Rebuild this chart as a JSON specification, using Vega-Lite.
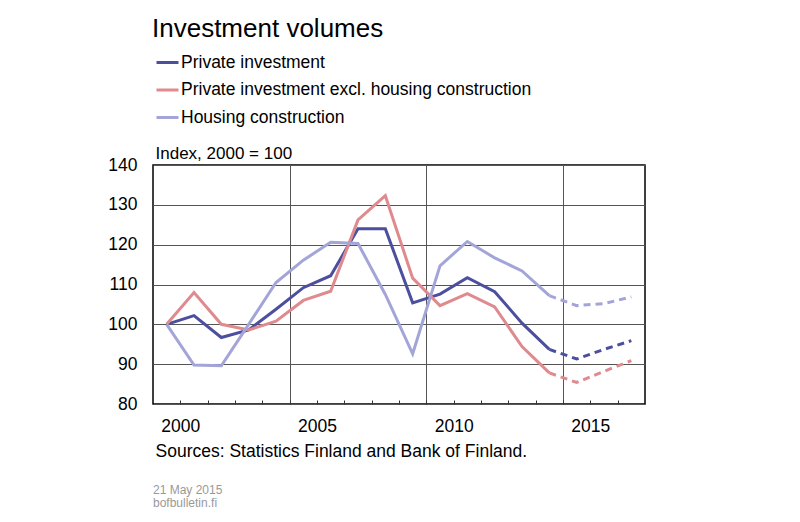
{
  "$schema": "https://vega.github.io/schema/vega-lite/v6.json",
  "description": "Investment volumes, index 2000 = 100",
  "width": 492,
  "height": 239,
  "autosize": {"type": "none"},
  "padding": {"left": 153, "top": 165, "right": 155, "bottom": 118},
  "background": "white",
  "config": {
    "font": "Liberation Sans",
    "view": {"stroke": "#000", "strokeWidth": 1.5}
  },
  "title": {
    "text": ["21 May 2015", "bofbulletin.fi"],
    "orient": "bottom",
    "anchor": "start",
    "frame": "group",
    "fontSize": 12,
    "fontWeight": "normal",
    "color": "#999",
    "lineHeight": 13.5,
    "offset": 25
  },
  "data": {
    "values": [
      {"year": 2000, "series": "Private investment", "value": 100},
      {"year": 2001, "series": "Private investment", "value": 102.2},
      {"year": 2002, "series": "Private investment", "value": 96.7},
      {"year": 2003, "series": "Private investment", "value": 98.6},
      {"year": 2004, "series": "Private investment", "value": 103.8},
      {"year": 2005, "series": "Private investment", "value": 109.2},
      {"year": 2006, "series": "Private investment", "value": 112.2},
      {"year": 2007, "series": "Private investment", "value": 124.0},
      {"year": 2008, "series": "Private investment", "value": 124.0},
      {"year": 2009, "series": "Private investment", "value": 105.4},
      {"year": 2010, "series": "Private investment", "value": 107.6},
      {"year": 2011, "series": "Private investment", "value": 111.7},
      {"year": 2012, "series": "Private investment", "value": 108.2},
      {"year": 2013, "series": "Private investment", "value": 100.3},
      {"year": 2014, "series": "Private investment", "value": 93.7},
      {"year": 2015, "series": "Private investment", "value": 91.3},
      {"year": 2016, "series": "Private investment", "value": 93.7},
      {"year": 2017, "series": "Private investment", "value": 95.9},
      {"year": 2000, "series": "Private investment excl. housing construction", "value": 100},
      {"year": 2001, "series": "Private investment excl. housing construction", "value": 108.0},
      {"year": 2002, "series": "Private investment excl. housing construction", "value": 100.0},
      {"year": 2003, "series": "Private investment excl. housing construction", "value": 98.6},
      {"year": 2004, "series": "Private investment excl. housing construction", "value": 100.8},
      {"year": 2005, "series": "Private investment excl. housing construction", "value": 106.0},
      {"year": 2006, "series": "Private investment excl. housing construction", "value": 108.3},
      {"year": 2007, "series": "Private investment excl. housing construction", "value": 126.2},
      {"year": 2008, "series": "Private investment excl. housing construction", "value": 132.3},
      {"year": 2009, "series": "Private investment excl. housing construction", "value": 111.6},
      {"year": 2010, "series": "Private investment excl. housing construction", "value": 104.7},
      {"year": 2011, "series": "Private investment excl. housing construction", "value": 107.7},
      {"year": 2012, "series": "Private investment excl. housing construction", "value": 104.4},
      {"year": 2013, "series": "Private investment excl. housing construction", "value": 94.4},
      {"year": 2014, "series": "Private investment excl. housing construction", "value": 87.8},
      {"year": 2015, "series": "Private investment excl. housing construction", "value": 85.4},
      {"year": 2016, "series": "Private investment excl. housing construction", "value": 88.2},
      {"year": 2017, "series": "Private investment excl. housing construction", "value": 90.9},
      {"year": 2000, "series": "Housing construction", "value": 100},
      {"year": 2001, "series": "Housing construction", "value": 89.8},
      {"year": 2002, "series": "Housing construction", "value": 89.6},
      {"year": 2003, "series": "Housing construction", "value": 100.0},
      {"year": 2004, "series": "Housing construction", "value": 110.5},
      {"year": 2005, "series": "Housing construction", "value": 116.1},
      {"year": 2006, "series": "Housing construction", "value": 120.6},
      {"year": 2007, "series": "Housing construction", "value": 120.3},
      {"year": 2008, "series": "Housing construction", "value": 107.5},
      {"year": 2009, "series": "Housing construction", "value": 92.6},
      {"year": 2010, "series": "Housing construction", "value": 114.7},
      {"year": 2011, "series": "Housing construction", "value": 120.8},
      {"year": 2012, "series": "Housing construction", "value": 116.7},
      {"year": 2013, "series": "Housing construction", "value": 113.4},
      {"year": 2014, "series": "Housing construction", "value": 107.2},
      {"year": 2015, "series": "Housing construction", "value": 104.7},
      {"year": 2016, "series": "Housing construction", "value": 105.2},
      {"year": 2017, "series": "Housing construction", "value": 106.9}
    ]
  },
  "encoding": {
    "x": {
      "field": "year",
      "type": "quantitative",
      "scale": {"domain": [1999.5, 2017.5], "nice": false, "zero": false},
      "axis": {
        "values": [2000.5, 2001.5, 2002.5, 2003.5, 2004.5, 2005.5, 2006.5, 2007.5, 2008.5, 2009.5, 2010.5, 2011.5, 2012.5, 2013.5, 2014.5, 2015.5, 2016.5],
        "labelExpr": "(datum.value - 0.5) % 5 == 0 ? format(datum.value - 0.5, 'd') : ''",
        "labelOverlap": false,
        "labelFlush": false,
        "labelBound": false,
        "labelFontSize": 17.5,
        "labelColor": "#000",
        "labelPadding": 13,
        "domain": false,
        "offset": -4,
        "ticks": true,
        "tickSize": 4,
        "tickWidth": 1,
        "tickColor": "#333",
        "grid": true,
        "gridColor": "#555",
        "gridOpacity": {"condition": {"test": "(datum.value - 0.5) % 5 == 4", "value": 1}, "value": 0},
        "title": "Sources: Statistics Finland and Bank of Finland.",
        "titleFontSize": 17.5,
        "titleFontWeight": "normal",
        "titleColor": "#000",
        "titleAnchor": "start",
        "titleAlign": "left",
        "titleBaseline": "alphabetic",
        "titleX": 2,
        "titleY": 56
      }
    },
    "y": {
      "field": "value",
      "type": "quantitative",
      "scale": {"domain": [80, 140], "nice": false, "zero": false},
      "axis": {
        "values": [80, 90, 100, 110, 120, 130, 140],
        "ticks": false,
        "domain": false,
        "grid": true,
        "gridColor": "#555",
        "labelFontSize": 17.5,
        "labelColor": "#000",
        "labelPadding": 16,
        "title": "Index, 2000 = 100",
        "titleFontSize": 17,
        "titleFontWeight": "normal",
        "titleColor": "#000",
        "titleAngle": 0,
        "titleAnchor": "start",
        "titleAlign": "left",
        "titleBaseline": "alphabetic",
        "titleX": 2,
        "titleY": -7
      }
    },
    "color": {
      "field": "series",
      "type": "nominal",
      "scale": {
        "domain": ["Private investment", "Private investment excl. housing construction", "Housing construction"],
        "range": ["#4B4F9E", "#DE8A8F", "#A3A5D8"]
      },
      "legend": {
        "orient": "none",
        "legendX": -1,
        "legendY": -149,
        "direction": "vertical",
        "title": "Investment volumes",
        "titleFontSize": 26,
        "titleFontWeight": "normal",
        "titleColor": "#000",
        "titleLimit": 700,
        "titlePadding": 8,
        "symbolType": "stroke",
        "symbolSize": 484,
        "symbolStrokeWidth": 3,
        "symbolOffset": 3,
        "labelFontSize": 17.5,
        "labelColor": "#000",
        "labelOffset": 1,
        "labelLimit": 500,
        "rowPadding": 6.5
      }
    }
  },
  "layer": [
    {
      "transform": [{"filter": "datum.year <= 2014"}],
      "mark": {"type": "line", "strokeWidth": 3}
    },
    {
      "transform": [{"filter": "datum.year >= 2014"}],
      "mark": {"type": "line", "strokeWidth": 3, "strokeDash": [7, 5]}
    }
  ]
}
